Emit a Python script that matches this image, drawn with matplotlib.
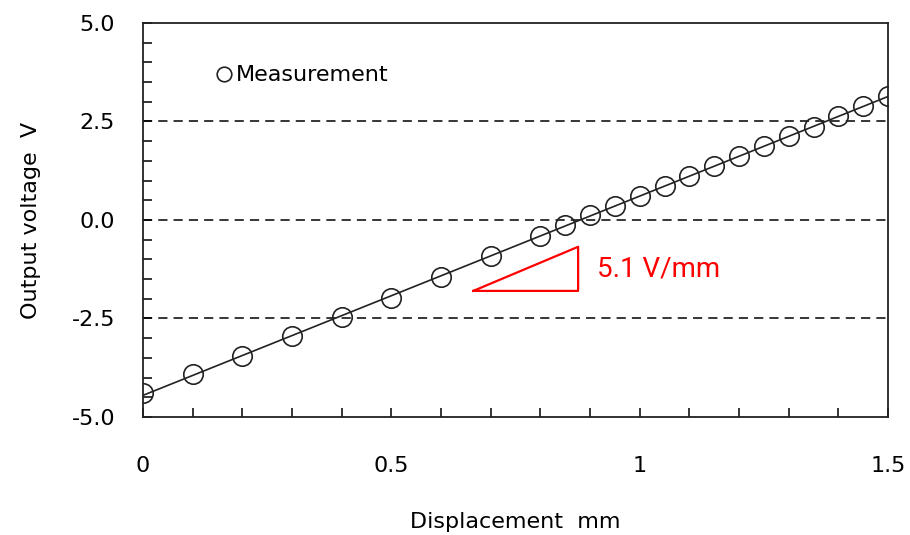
import numpy as np
import matplotlib.pyplot as plt
from matplotlib.ticker import MultipleLocator, FixedLocator

# datos
desplazamiento = [0.0, 0.1, 0.2, 0.3, 0.4, 0.5, 0.6, 0.7, 0.8, 0.85, 0.9, 0.95,
                  1.0, 1.05, 1.1, 1.15, 1.2, 1.25, 1.3, 1.35, 1.4, 1.45, 1.5]
voltaje = [-4.40, -3.92, -3.45, -2.95, -2.47, -1.97, -1.44, -0.91, -0.40, -0.13,
           0.12, 0.35, 0.61, 0.86, 1.11, 1.36, 1.62, 1.87, 2.13, 2.37, 2.64, 2.89, 3.14]

xticks = [0, 0.5, 1, 1.5]
xticklabels = ['0', '0.5', '1', '1.5']
yticks = [-5, -2.5, 0, 2.5, 5]
yticklabels = ['-5.0', '-2.5', '0.0', '2.5', '5.0']
lineas_guia = [-2.5, 0, 2.5]

# triangulo de pendiente
tri_x = [0.665, 0.876, 0.876, 0.665]
tri_y = [-1.80, -1.80, -0.68, -1.80]
etiqueta_pendiente = '5.1 V/mm'

plt.rcParams['font.family'] = ['DejaVu Sans']

fig = plt.figure(figsize=(9.1, 5.35), dpi=100)
ax = fig.add_axes([0.157, 0.2206, 0.819, 0.7364])

x = np.array(desplazamiento)
y = np.array(voltaje)

for g in lineas_guia:
    ax.axhline(g, color='black', lw=1.1, ls=(0, (6, 4)), zorder=1)

# recta de ajuste
p = np.polyfit(x, y, 1)
ax.plot(x, np.polyval(p, x), color='#222222', lw=1.2, zorder=2)
ax.plot(x, y, 'o', ms=14, mfc='none', mec='#222222', mew=1.2, zorder=3,
        label='Measurement')

ax.plot(tri_x, tri_y, color='red', lw=1.6, zorder=4)
ax.text(0.914, -1.24, etiqueta_pendiente, color='red', fontsize=20, va='center', ha='left',
        family=['Roboto', 'DejaVu Sans'])

ax.set_xlim(0, 1.5)
ax.set_ylim(-5, 5)
ax.xaxis.set_major_locator(FixedLocator(xticks))
ax.set_xticklabels(xticklabels)
ax.yaxis.set_major_locator(FixedLocator(yticks))
ax.set_yticklabels(yticklabels)
ax.xaxis.set_minor_locator(MultipleLocator(0.1))
ax.yaxis.set_minor_locator(MultipleLocator(0.5))
ax.tick_params(which='both', direction='in', length=6.5, width=1.1, top=False, right=False)
ax.tick_params(axis='x', which='major', pad=28, labelsize=16)
ax.tick_params(axis='y', which='major', pad=20, labelsize=16)

for s in ax.spines.values():
    s.set_linewidth(1.3)
    s.set_color('#222222')

ax.set_xlabel('Displacement  mm', fontsize=16, labelpad=26)
ax.set_ylabel('Output voltage  V', fontsize=16, labelpad=22)

ax.legend(loc='upper left', bbox_to_anchor=(0.088, 0.915), frameon=False, fontsize=16,
          markerscale=0.75, handlelength=0.6, handletextpad=0.25, borderaxespad=0)

fig.savefig('out.png', dpi=100)
